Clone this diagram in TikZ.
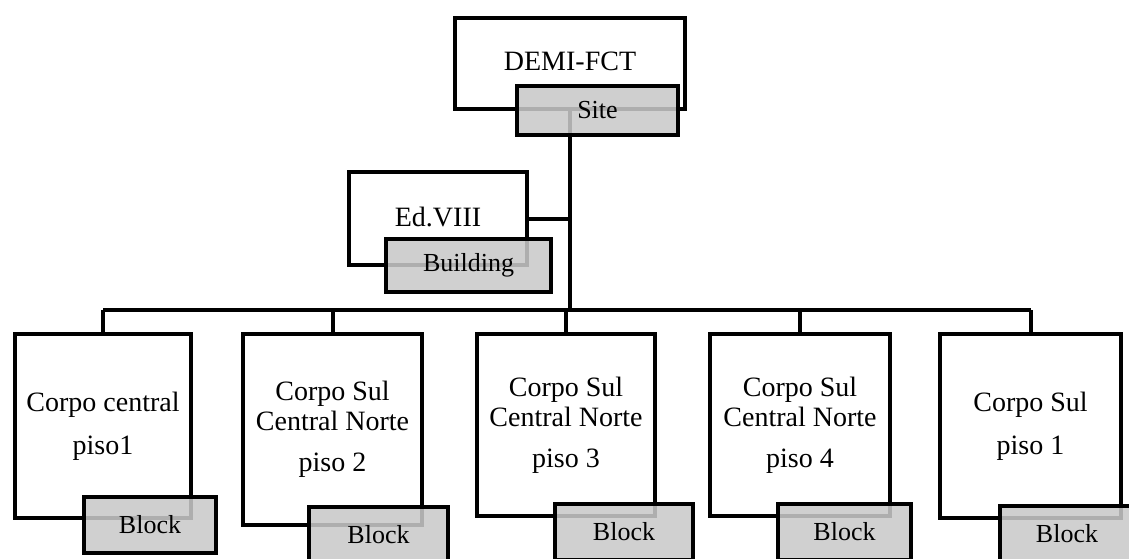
\documentclass[tikz,border=0pt]{standalone}
\usepackage{fontspec}
\setmainfont{Liberation Serif}
\usepackage{xcolor}
\usetikzlibrary{backgrounds}

\definecolor{taggray}{RGB}{201,201,201}

\tikzset{
  unitbox/.style={draw,line width=4.5pt,fill=white,align=center,inner sep=0pt,
    font=\fontsize{28}{30}\selectfont},
  tagbox/.style={draw,line width=4.5pt,fill=taggray,fill opacity=0.87,text opacity=1,
    inner sep=0pt,font=\fontsize{26}{28}\selectfont},
  link/.style={line width=4pt}
}

\begin{document}
\begin{tikzpicture}[x=1pt,y=-1pt]
    \useasboundingbox (0,0) rectangle (1129,558);
    % site
    \node[unitbox,minimum width=230,minimum height=91] (demi) at (570,63.5)
      {\raisebox{5pt}{DEMI-FCT}};
    \node[tagbox,minimum width=161,minimum height=49] (site) at (597.5,110.5) {Site};
    % building
    \node[unitbox,minimum width=178,minimum height=93] (ed) at (438,218.5)
      {\raisebox{4pt}{Ed.VIII}};
    \node[tagbox,minimum width=165,minimum height=53] (bldg) at (468.5,265.5) {Building};
    % blocks
    \node[unitbox,minimum width=176,minimum height=184] (corpo1) at (103,426)
      {Corpo central\\[13pt]piso1};
    \node[tagbox,minimum width=132,minimum height=56] (block1) at (150,525) {Block};
    \node[unitbox,minimum width=179,minimum height=191] (corpo2) at (332.5,429.5)
      {Corpo Sul\\Central Norte\\[11pt]piso 2};
    \node[tagbox,minimum width=139,minimum height=56] (block2) at (378.5,535) {Block};
    \node[unitbox,minimum width=178,minimum height=182] (corpo3) at (566,425)
      {Corpo Sul\\Central Norte\\[11pt]piso 3};
    \node[tagbox,minimum width=138,minimum height=56] (block3) at (624,532) {Block};
    \node[unitbox,minimum width=180,minimum height=182] (corpo4) at (800,425)
      {Corpo Sul\\Central Norte\\[11pt]piso 4};
    \node[tagbox,minimum width=133,minimum height=56] (block4) at (844.5,532) {Block};
    \node[unitbox,minimum width=181,minimum height=184] (corpo5) at (1030.5,426)
      {Corpo Sul\\[13pt]piso 1};
    \node[tagbox,minimum width=134,minimum height=56] (block5) at (1067,534) {Block};
    % connectors
    \begin{scope}[on background layer]
      \coordinate (bar) at (566,310);
      \draw[link] (demi.south) -- (demi.south |- bar);
      \draw[link] (ed.east) -- (ed.east -| demi.south);
      \draw[link] (corpo1.north |- bar) -- (corpo5.north |- bar);
      \foreach \b in {corpo1,corpo2,corpo3,corpo4,corpo5}
        \draw[link] (\b.north) -- (\b.north |- bar);
    \end{scope}
\end{tikzpicture}
\end{document}
